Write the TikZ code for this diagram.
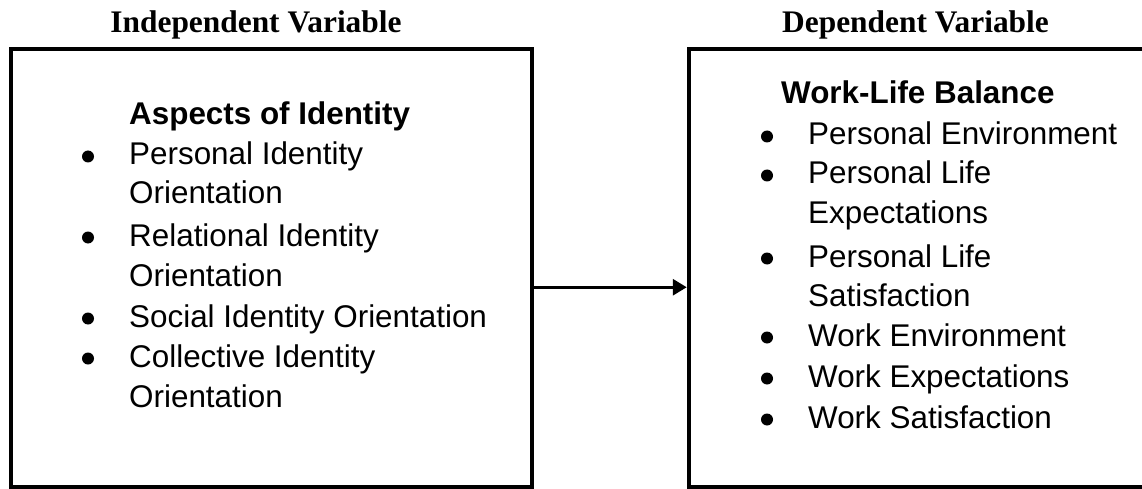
\documentclass[tikz,border=0pt]{standalone}
\usepackage{fontspec}
\setmainfont{Liberation Sans}
\newfontfamily\titlefont{Liberation Serif}
\usetikzlibrary{arrows.meta}

\tikzset{
    varbox/.style={draw, line width=4.5pt, minimum width=#1, minimum height=438.5pt, inner sep=0pt},
    vartitle/.style={anchor=base, inner sep=0pt, font=\titlefont\bfseries\fontsize{31.4}{40}\selectfont},
    item/.style={anchor=base west, inner sep=0pt, font=\fontsize{31.4}{40}\selectfont},
    head/.style={item, font=\fontsize{31.4}{40}\selectfont\bfseries},
    dot/.style={circle, fill, inner sep=0pt, minimum size=12pt}
}

\begin{document}
\begin{tikzpicture}[x=1pt, y=-1pt]
        \useasboundingbox (0, 0) rectangle (1142, 489);
        \clip (0, 0) rectangle (1142, 489);

        % boxes
        \node [varbox=521pt] (indep) at (271.5, 268.25) {};
        \node [varbox=461pt] (dep) at (919.5, 268.25) {};
        \draw [line width=3pt, -{Triangle[length=14pt, width=16pt]}] ([yshift=-19pt]indep.east) -- ([yshift=-19pt]dep.west);

        \node [vartitle] (indeptitle) at (256, 33) {Independent Variable};
        \node [vartitle] (deptitle) at (915.5, 33) {Dependent Variable};

        % independent variable
        \node [head] (aspects) at (129, 125) {Aspects of Identity};
        \node [item] (pio1) at (129, 165) {Personal Identity};
        \node [item] (pio2) at (129, 204) {Orientation};
        \node [item] (rio1) at (129, 246) {Relational Identity};
        \node [item] (rio2) at (129, 286) {Orientation};
        \node [item] (sio) at (129, 327) {Social Identity Orientation};
        \node [item] (cio1) at (129, 367) {Collective Identity};
        \node [item] (cio2) at (129, 407) {Orientation};
        \foreach \y [count=\i] in {165, 246, 327, 367}{
            \node [dot] (ldot\i) at (88, \y-8.5) {};
        }

        % dependent variable
        \node [head] (wlb) at (781, 104) {Work-Life Balance};
        \node [item] (penv) at (808, 145) {Personal Environment};
        \node [item] (pexp1) at (808, 184) {Personal Life};
        \node [item] (pexp2) at (808, 223) {Expectations};
        \node [item] (psat1) at (808, 267) {Personal Life};
        \node [item] (psat2) at (808, 306) {Satisfaction};
        \node [item] (wenv) at (808, 346) {Work Environment};
        \node [item] (wexp) at (808, 387) {Work Expectations};
        \node [item] (wsat) at (808, 428) {Work Satisfaction};
        \foreach \y [count=\i] in {145, 184, 267, 346, 387, 428}{
            \node [dot] (rdot\i) at (767, \y-8.5) {};
        }

    \end{tikzpicture}
\end{document}
